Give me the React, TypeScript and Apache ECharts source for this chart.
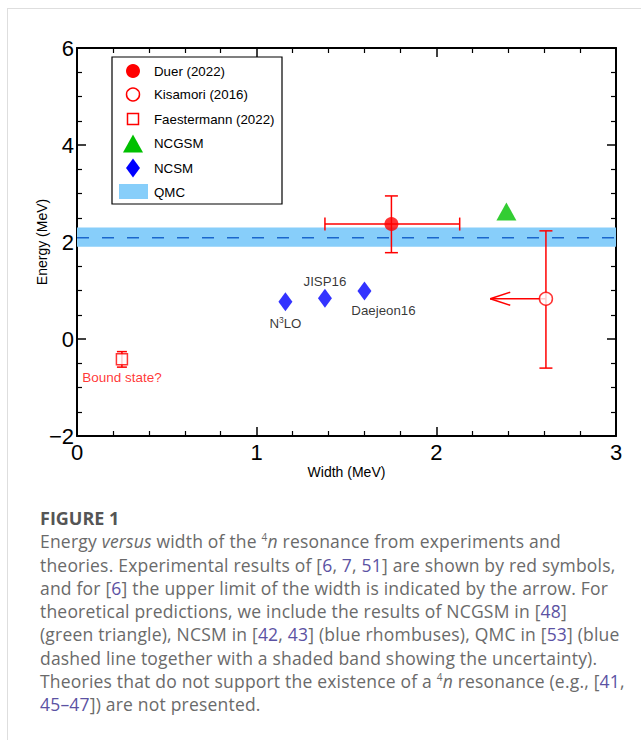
import React, { useEffect, useRef } from "react";
import * as echarts from "echarts";

// ---------- data ----------
const xTickValues = [0, 1, 2, 3];
const yTickValues = [-2, 0, 2, 4, 6];

// Duer (2022): [width, energy]
const duerPoint = [1.75, 2.37];
const duerWidthRange = [1.38, 2.13];
const duerEnergyRange = [1.78, 2.95];

// Kisamori (2016): width is an upper limit (arrow)
const kisamoriPoint = [2.61, 0.83];
const kisamoriEnergyRange = [-0.6, 2.23];
const kisamoriArrowTip = 2.3;

// Faestermann (2022)
const faestermannPoint = [0.25, -0.42];
const faestermannEnergyRange = [-0.58, -0.26];
const faestermannNote = "Bound state?";

// NCGSM
const ncgsmPoint = [2.39, 2.63];

// NCSM
const ncsmNames = ["N3LO", "JISP16", "Daejeon16"];
const ncsmWidth = [1.16, 1.38, 1.6];
const ncsmEnergy = [0.77, 0.84, 0.99];

// QMC
const qmcEnergy = 2.09;
const qmcBand = [1.9, 2.3];

const legendNames = [
  "Duer (2022)",
  "Kisamori (2016)",
  "Faestermann (2022)",
  "NCGSM",
  "NCSM",
  "QMC",
];

const RED = "#ff0000";
const FONT = "'Liberation Sans', Arial, Helvetica, sans-serif";

function vErrRender(capHalf: number) {
  return (params: any, api: any) => {
    const x = api.value(0);
    const lo = api.coord([x, api.value(1)]);
    const hi = api.coord([x, api.value(2)]);
    const style = { stroke: RED, lineWidth: 1.5, fill: "none" };
    return {
      type: "group",
      children: [
        { type: "line", shape: { x1: lo[0], y1: lo[1], x2: hi[0], y2: hi[1] }, style },
        { type: "line", shape: { x1: lo[0] - capHalf, y1: lo[1], x2: lo[0] + capHalf, y2: lo[1] }, style },
        { type: "line", shape: { x1: hi[0] - capHalf, y1: hi[1], x2: hi[0] + capHalf, y2: hi[1] }, style },
      ],
    };
  };
}

function hErrRender(params: any, api: any) {
  const y = api.value(0);
  const lo = api.coord([api.value(1), y]);
  const hi = api.coord([api.value(2), y]);
  const style = { stroke: RED, lineWidth: 1.5, fill: "none" };
  const c = 6.5;
  return {
    type: "group",
    children: [
      { type: "line", shape: { x1: lo[0], y1: lo[1], x2: hi[0], y2: hi[1] }, style },
      { type: "line", shape: { x1: lo[0], y1: lo[1] - c, x2: lo[0], y2: lo[1] + c }, style },
      { type: "line", shape: { x1: hi[0], y1: hi[1] - c, x2: hi[0], y2: hi[1] + c }, style },
    ],
  };
}

function arrowRender(params: any, api: any) {
  const y = api.value(1);
  const from = api.coord([api.value(0), y]);
  const tip = api.coord([api.value(2), y]);
  const style = { stroke: RED, lineWidth: 1.5, fill: "none" };
  return {
    type: "group",
    children: [
      { type: "line", shape: { x1: from[0], y1: from[1], x2: tip[0], y2: tip[1] }, style },
      { type: "line", shape: { x1: tip[0], y1: tip[1], x2: tip[0] + 20, y2: tip[1] - 6.5 }, style },
      { type: "line", shape: { x1: tip[0], y1: tip[1], x2: tip[0] + 20, y2: tip[1] + 6.5 }, style },
    ],
  };
}

function buildLegend() {
  const x0 = 112, y0 = 57, w = 170, h = 147;
  const sx = 133, tx = 154;
  const rows = [71, 94.5, 119, 143.5, 168, 192];
  const children: any[] = [
    { type: "rect", shape: { x: x0, y: y0, width: w, height: h }, style: { fill: "#fff", stroke: "#000", lineWidth: 1.2 } },
    { type: "circle", shape: { cx: sx, cy: rows[0], r: 7 }, style: { fill: RED } },
    { type: "circle", shape: { cx: sx, cy: rows[1], r: 6.5 }, style: { fill: "#fff", stroke: RED, lineWidth: 1.5 } },
    { type: "rect", shape: { x: sx - 5.5, y: rows[2] - 5.5, width: 11, height: 11 }, style: { fill: "#fff", stroke: RED, lineWidth: 1.5 } },
    { type: "polygon", shape: { points: [[sx - 10, rows[3] + 9], [sx + 10, rows[3] + 9], [sx, rows[3] - 9]] }, style: { fill: "#00c000" } },
    { type: "polygon", shape: { points: [[sx, rows[4] - 9.5], [sx + 7, rows[4]], [sx, rows[4] + 9.5], [sx - 7, rows[4]]] }, style: { fill: "#0000ff" } },
    { type: "rect", shape: { x: sx - 14, y: rows[5] - 8, width: 29, height: 15 }, style: { fill: "#87cefa" } },
  ];
  legendNames.forEach((n, i) => {
    children.push({
      type: "text",
      x: tx,
      y: rows[i],
      style: { text: n, fill: "#000", font: `13.3px ${FONT}`, verticalAlign: "middle", align: "left" },
    });
  });
  return [{ type: "group", z: 100, children }];
}

export default function App() {
  const ref = useRef<HTMLDivElement>(null);

  useEffect(() => {
    if (!ref.current) return;
    const chart = echarts.init(ref.current, undefined, { renderer: "svg" });

    const axisCommon = {
      axisLine: { show: true, onZero: false, lineStyle: { color: "#000", width: 2 } },
      axisTick: { show: true, inside: true, length: 9, lineStyle: { color: "#000", width: 1.5 } },
      minorTick: { show: true, length: 5, lineStyle: { color: "#000", width: 1.2 } },
      splitLine: { show: false },
      minorSplitLine: { show: false },
    };
    const fmt = (v: number) => (v < 0 ? "\u2212" + Math.abs(v) : String(v));

    const option: any = {
      animation: false,
      grid: { left: 77, top: 48, width: 539, height: 388, containLabel: false },
      xAxis: [
        {
          type: "value", min: xTickValues[0], max: xTickValues[xTickValues.length - 1], interval: 1,
          position: "bottom",
          ...axisCommon,
          minorTick: { ...axisCommon.minorTick, splitNumber: 5 },
          axisLabel: { color: "#000", fontSize: 22, fontFamily: FONT, margin: 5, formatter: fmt },
          name: "Width (MeV)", nameLocation: "middle", nameGap: 29, nameMoveOverlap: false,
          nameTextStyle: { color: "#000", fontSize: 14, fontFamily: FONT },
        },
        {
          type: "value", min: xTickValues[0], max: xTickValues[xTickValues.length - 1], interval: 1,
          position: "top",
          ...axisCommon,
          minorTick: { ...axisCommon.minorTick, splitNumber: 5 },
          axisLabel: { show: false },
        },
      ],
      yAxis: [
        {
          type: "value", min: yTickValues[0], max: yTickValues[yTickValues.length - 1], interval: 2,
          position: "left",
          ...axisCommon,
          minorTick: { ...axisCommon.minorTick, splitNumber: 4 },
          axisLabel: { color: "#000", fontSize: 22, fontFamily: FONT, margin: 3, formatter: fmt },
          name: "Energy (MeV)", nameLocation: "middle", nameGap: 28, nameRotate: 90, nameMoveOverlap: false,
          nameTextStyle: { color: "#000", fontSize: 14, fontFamily: FONT },
        },
        {
          type: "value", min: yTickValues[0], max: yTickValues[yTickValues.length - 1], interval: 2,
          position: "right",
          ...axisCommon,
          minorTick: { ...axisCommon.minorTick, splitNumber: 4 },
          axisLabel: { show: false },
        },
      ],
      graphic: buildLegend(),
      series: [
        {
          name: "QMC",
          type: "line",
          z: 1,
          symbol: "none",
          data: [[xTickValues[0], qmcEnergy], [xTickValues[xTickValues.length - 1], qmcEnergy]],
          lineStyle: { color: "#1a66cc", width: 1.5, type: [12, 13] },
          markArea: {
            silent: true,
            itemStyle: { color: "#87cefa", opacity: 1 },
            data: [[{ yAxis: qmcBand[0] }, { yAxis: qmcBand[1] }]],
          },
        },
        {
          name: "Duer energy error",
          type: "custom",
          z: 3,
          renderItem: vErrRender(6.5),
          data: [[duerPoint[0], duerEnergyRange[0], duerEnergyRange[1]]],
        },
        {
          name: "Duer width error",
          type: "custom",
          z: 3,
          renderItem: hErrRender,
          encode: { x: 1, y: 0 },
          data: [[duerPoint[1], duerWidthRange[0], duerWidthRange[1]]],
        },
        {
          name: "Kisamori energy error",
          type: "custom",
          z: 3,
          renderItem: vErrRender(6.5),
          data: [[kisamoriPoint[0], kisamoriEnergyRange[0], kisamoriEnergyRange[1]]],
        },
        {
          name: "Kisamori width limit",
          type: "custom",
          z: 3,
          renderItem: arrowRender,
          data: [[kisamoriPoint[0], kisamoriPoint[1], kisamoriArrowTip]],
        },
        {
          name: "Faestermann energy error",
          type: "custom",
          z: 3,
          renderItem: vErrRender(5),
          data: [[faestermannPoint[0], faestermannEnergyRange[0], faestermannEnergyRange[1]]],
        },
        {
          name: legendNames[0],
          type: "scatter",
          z: 5,
          symbol: "circle",
          symbolSize: 14,
          itemStyle: { color: RED },
          data: [duerPoint],
        },
        {
          name: legendNames[1],
          type: "scatter",
          z: 5,
          symbol: "circle",
          symbolSize: 13,
          itemStyle: { color: "#fff", borderColor: RED, borderWidth: 1.5 },
          data: [kisamoriPoint],
        },
        {
          name: legendNames[2],
          type: "scatter",
          z: 5,
          symbol: "rect",
          symbolSize: 11,
          itemStyle: { color: "#fff", borderColor: RED, borderWidth: 1.5 },
          label: {
            show: true, position: "bottom", distance: 5,
            formatter: faestermannNote, color: RED, fontSize: 13.5, fontFamily: FONT,
          },
          data: [faestermannPoint],
        },
        {
          name: legendNames[3],
          type: "scatter",
          z: 5,
          symbol: "triangle",
          symbolSize: [20, 18],
          itemStyle: { color: "#00c000" },
          data: [ncgsmPoint],
        },
        {
          name: legendNames[4],
          type: "scatter",
          z: 5,
          symbol: "diamond",
          symbolSize: [14, 19],
          itemStyle: { color: "#0000ff" },
          label: { show: true, color: "#000", fontSize: 13.3, fontFamily: FONT },
          data: ncsmNames.map((n, i) => {
            const base: any = { value: [ncsmWidth[i], ncsmEnergy[i]], name: n };
            if (i === 0) {
              base.label = {
                position: "bottom", distance: 4,
                formatter: "N{sup|3}LO",
                rich: { sup: { fontSize: 8.5, verticalAlign: "top", padding: [0, 0, 8, 0], fontFamily: FONT, color: "#000" } },
              };
            } else if (i === 1) {
              base.label = { position: "top", distance: 1, formatter: n };
            } else {
              base.label = { position: "bottom", distance: 4, offset: [19, 0], formatter: n };
            }
            return base;
          }),
        },
      ],
    };
    chart.setOption(option);
    return () => chart.dispose();
  }, []);

  const ref_ = { color: "#5b52a3" };
  const sup = { fontSize: "10px", verticalAlign: "7px", lineHeight: 0 } as any;
  const line = { whiteSpace: "nowrap", height: "23.3px", lineHeight: "23.3px" } as any;

  return (
    <div style={{ position: "fixed", left: 0, top: 0, width: 641, height: 740, background: "#fff", overflow: "hidden" }}>
      <div style={{ position: "absolute", left: 7, top: 8, width: 800, height: 900, borderTop: "1px solid #dedede", borderLeft: "1px solid #dedede" }} />
      <div ref={ref} style={{ position: "absolute", left: 0, top: 0, width: 641, height: 500 }} />
      <div style={{ position: "absolute", left: 40, top: 507, fontFamily: "'Open Sans', sans-serif", color: "#6a6a6a", fontSize: "17.5px", letterSpacing: "0.2px" }}>
        <div style={{ ...line, fontWeight: 700, fontSize: "18px", color: "#555", letterSpacing: "0px" }}>FIGURE 1</div>
        <div style={line}>Energy <i>versus</i> width of the <span style={sup}>4</span><i>n</i> resonance from experiments and</div>
        <div style={line}>theories. Experimental results of [<span style={ref_}>6</span>, <span style={ref_}>7</span>, <span style={ref_}>51</span>] are shown by red symbols,</div>
        <div style={line}>and for [<span style={ref_}>6</span>] the upper limit of the width is indicated by the arrow. For</div>
        <div style={line}>theoretical predictions, we include the results of NCGSM in [<span style={ref_}>48</span>]</div>
        <div style={line}>(green triangle), NCSM in [<span style={ref_}>42</span>, <span style={ref_}>43</span>] (blue rhombuses), QMC in [<span style={ref_}>53</span>] (blue</div>
        <div style={line}>dashed line together with a shaded band showing the uncertainty).</div>
        <div style={line}>Theories that do not support the existence of a <span style={sup}>4</span><i>n</i> resonance (e.g., [<span style={ref_}>41</span>,</div>
        <div style={line}><span style={ref_}>45–47</span>]) are not presented.</div>
      </div>
    </div>
  );
}
